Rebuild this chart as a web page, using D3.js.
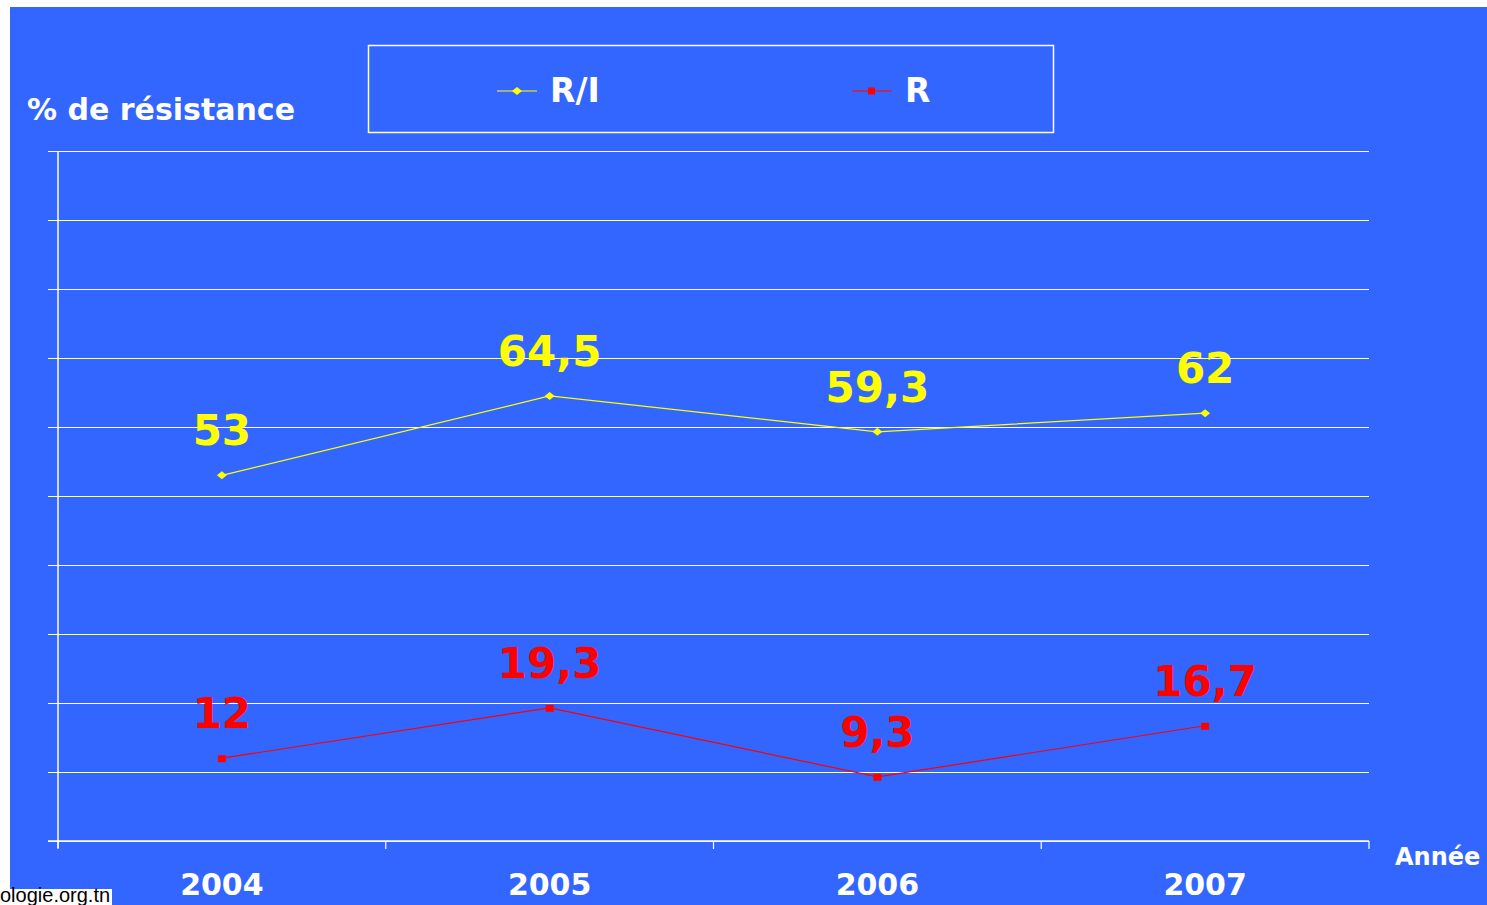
<!DOCTYPE html>
<html>
<head>
<meta charset="utf-8">
<script src="https://cdn.jsdelivr.net/npm/d3@7"></script>
<style>
  html, body { margin: 0; padding: 0; background: #ffffff; }
  svg { display: block; }
</style>
</head>
<body>
<svg id="chart" width="1487" height="905"></svg>
<script>
// Annual resistance rates
const years = ["2004", "2005", "2006", "2007"];
const seriesRI = [53, 64.5, 59.3, 62];
const seriesR = [12, 19.3, 9.3, 16.7];
const labelsRI = ["53", "64,5", "59,3", "62"];
const labelsR = ["12", "19,3", "9,3", "16,7"];
const yTicks = [0, 10, 20, 30, 40, 50, 60, 70, 80, 90, 100];

const svg = d3.select("#chart");
const W = 1487, H = 905;
const bold = "'DejaVu Sans', sans-serif";

// Background panel
svg.append("rect").attr("x", 10).attr("y", 7).attr("width", W - 10).attr("height", H - 7)
  .attr("fill", "#3366FF");

const plotLeft = 58, plotRight = 1369, plotTop = 151, plotBottom = 841;

const x = d3.scaleBand().domain(years).range([plotLeft, plotRight]).padding(0);
const y = d3.scaleLinear().domain([0, 100]).range([plotBottom, plotTop]);
const cx = d => x(d) + x.bandwidth() / 2;

// Horizontal grid lines with short left ticks
const yAxis = d3.axisLeft(y).tickValues(yTicks).tickSize(-(plotRight - plotLeft)).tickFormat("");
const gy = svg.append("g").attr("transform", `translate(${plotLeft},0)`).call(yAxis);
gy.select(".domain").remove();
gy.selectAll(".tick line").attr("stroke", "#ffffff").attr("stroke-width", 1.2)
  .attr("x1", -10);

// Vertical axis line
svg.append("line").attr("x1", plotLeft).attr("x2", plotLeft)
  .attr("y1", plotTop).attr("y2", plotBottom + 7)
  .attr("stroke", "#ffffff").attr("stroke-width", 1.5);

// Category axis: base line, boundary ticks and year labels
svg.append("line").attr("x1", plotLeft - 10).attr("x2", plotRight)
  .attr("y1", plotBottom).attr("y2", plotBottom)
  .attr("stroke", "#ffffff").attr("stroke-width", 1.5);
const bounds = years.map(d => x(d)).concat([plotRight]);
svg.selectAll("line.xtick").data(bounds).join("line").attr("class", "xtick")
  .attr("x1", d => d).attr("x2", d => d)
  .attr("y1", plotBottom).attr("y2", plotBottom + 8)
  .attr("stroke", "#ffffff").attr("stroke-width", 1.2);
svg.selectAll("text.year").data(years).join("text").attr("class", "year")
  .attr("x", d => cx(d)).attr("y", 895)
  .attr("text-anchor", "middle").attr("fill", "#ffffff")
  .attr("font-family", bold).attr("font-weight", "bold").attr("font-size", 30)
  .text(d => d);

// Axis titles
svg.append("text").attr("x", 27).attr("y", 120).attr("fill", "#ffffff")
  .attr("font-family", bold).attr("font-weight", "bold").attr("font-size", 30)
  .text("% de résistance");
svg.append("text").attr("x", 1395).attr("y", 865).attr("fill", "#ffffff")
  .attr("font-family", bold).attr("font-weight", "bold").attr("font-size", 24)
  .text("Année");

// Series lines
const line = d3.line().x((d, i) => cx(years[i])).y(d => y(d));
svg.append("path").datum(seriesRI).attr("d", line)
  .attr("fill", "none").attr("stroke", "#FFFF00").attr("stroke-width", 1.2);
svg.append("path").datum(seriesR).attr("d", line)
  .attr("fill", "none").attr("stroke", "#FF0000").attr("stroke-width", 1.2);

// Markers
const diamond = (px, py) => `M${px - 5},${py} L${px},${py - 4} L${px + 5},${py} L${px},${py + 4} Z`;
svg.selectAll("path.mri").data(seriesRI).join("path").attr("class", "mri")
  .attr("d", (d, i) => diamond(cx(years[i]), y(d))).attr("fill", "#FFFF00");
svg.selectAll("rect.mr").data(seriesR).join("rect").attr("class", "mr")
  .attr("x", (d, i) => cx(years[i]) - 4).attr("y", d => y(d) - 3)
  .attr("width", 8).attr("height", 7).attr("fill", "#FF0000");

// Value labels
svg.selectAll("text.lri").data(seriesRI).join("text").attr("class", "lri")
  .attr("x", (d, i) => cx(years[i])).attr("y", d => y(d) - 30)
  .attr("text-anchor", "middle").attr("fill", "#FFFF00")
  .attr("font-family", bold).attr("font-weight", "bold").attr("font-size", 42)
  .text((d, i) => labelsRI[i]);
svg.selectAll("text.lr").data(seriesR).join("text").attr("class", "lr")
  .attr("x", (d, i) => cx(years[i])).attr("y", d => y(d) - 30)
  .attr("text-anchor", "middle").attr("fill", "#FF0000")
  .attr("font-family", bold).attr("font-weight", "bold").attr("font-size", 42)
  .text((d, i) => labelsR[i]);

// Legend
const lg = svg.append("g");
lg.append("rect").attr("x", 368.5).attr("y", 45.5).attr("width", 685).attr("height", 87)
  .attr("fill", "none").attr("stroke", "#ffffff").attr("stroke-width", 1.5);
const legendItems = [
  { name: "R/I", color: "#FFFF00", lineColor: "#C8CC55", x: 497, marker: "diamond" },
  { name: "R", color: "#FF0000", lineColor: "#D0203A", x: 852, marker: "square" }
];
legendItems.forEach(it => {
  lg.append("line").attr("x1", it.x).attr("x2", it.x + 40).attr("y1", 91).attr("y2", 91)
    .attr("stroke", it.lineColor).attr("stroke-width", 1.5);
  if (it.marker === "diamond") {
    lg.append("path").attr("d", diamond(it.x + 20, 91)).attr("fill", it.color);
  } else {
    lg.append("rect").attr("x", it.x + 16).attr("y", 87.5).attr("width", 7).attr("height", 7)
      .attr("fill", it.color);
  }
  lg.append("text").attr("x", it.x + 53).attr("y", 102).attr("fill", "#ffffff")
    .attr("font-family", bold).attr("font-weight", "bold").attr("font-size", 33)
    .text(it.name);
});

// Source credit in the bottom-left corner
svg.append("rect").attr("x", 0).attr("y", 889).attr("width", 112).attr("height", 16).attr("fill", "#ffffff");
svg.append("text").attr("x", 0).attr("y", 902).attr("fill", "#000000")
  .attr("font-family", "'Liberation Sans', Arial, sans-serif").attr("font-size", 20)
  .text("ologie.org.tn");
</script>
</body>
</html>
